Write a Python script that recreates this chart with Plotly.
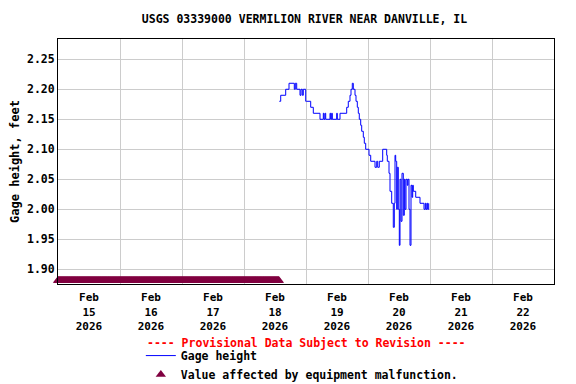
import pandas as pd
import plotly.graph_objects as go

# Gage height readings: hours after 2026-02-18 00:00 and value (feet)
gage_hours = [13.66, 14.21, 15.10, 16.14, 17.42, 19.47, 19.86, 20.40, 21.68, 22.06,
              22.57, 22.96, 23.88, 24.27, 25.82, 26.83, 29.42, 30.70, 30.97, 31.36,
              31.63, 33.29, 33.56, 33.95, 34.18, 35.88, 36.12, 37.16, 39.75, 40.37,
              41.03, 41.42, 41.92, 42.31, 42.97, 43.36, 43.86, 44.25, 44.63, 45.17,
              45.56, 46.18, 46.57, 47.11, 48.39, 49.05, 50.71, 51.37, 51.76, 52.37,
              53.69, 55.24, 55.47, 56.13, 56.52, 57.17, 57.79, 58.18, 58.45, 58.72,
              59.11, 59.34, 59.73, 60.12, 60.39, 60.77, 61.16, 61.67, 62.05, 62.32,
              62.71, 63.21, 63.48, 63.87, 64.26, 64.65, 65.03, 65.30, 65.54, 66.47,
              68.13, 69.68, 70.18, 70.45, 70.84, 71.11, 71.50]
gage_values = [2.18, 2.19, 2.19, 2.20, 2.21, 2.20, 2.21, 2.20, 2.19, 2.20,
               2.19, 2.20, 2.18, 2.18, 2.17, 2.16, 2.15, 2.16, 2.15, 2.16,
               2.15, 2.16, 2.15, 2.16, 2.15, 2.16, 2.15, 2.16, 2.17, 2.18,
               2.19, 2.20, 2.21, 2.20, 2.19, 2.18, 2.17, 2.16, 2.15, 2.14,
               2.13, 2.12, 2.11, 2.10, 2.09, 2.08, 2.07, 2.08, 2.07, 2.08,
               2.10, 2.09, 2.08, 2.06, 2.03, 2.01, 1.97, 2.01, 2.09, 2.08,
               2.00, 2.07, 2.00, 1.94, 2.05, 1.98, 2.06, 1.99, 2.05, 2.00,
               2.05, 2.04, 2.05, 2.00, 1.94, 2.04, 2.02, 2.04, 2.03, 2.02,
               2.01, 2.00, 2.01, 2.00, 2.01, 2.00, 2.01]

# Period of values flagged as affected by equipment malfunction
malfunction_start = "2026-02-15 00:00"
malfunction_end = "2026-02-18 13:30"
malfunction_level = 1.8815

day_labels = ["Feb<br>15<br>2026", "Feb<br>16<br>2026", "Feb<br>17<br>2026", "Feb<br>18<br>2026",
              "Feb<br>19<br>2026", "Feb<br>20<br>2026", "Feb<br>21<br>2026", "Feb<br>22<br>2026"]
day_dates = ["2026-02-15", "2026-02-16", "2026-02-17", "2026-02-18",
             "2026-02-19", "2026-02-20", "2026-02-21", "2026-02-22"]
y_ticks = [1.90, 1.95, 2.00, 2.05, 2.10, 2.15, 2.20, 2.25]

base = pd.Timestamp("2026-02-18 00:00")
gage_times = [base + pd.Timedelta(hours=h) for h in gage_hours]
mal_times = pd.date_range(malfunction_start, malfunction_end, freq="15min")

FONT = "DejaVu Sans Mono"
fig = go.Figure()
fig.add_trace(go.Scatter(x=gage_times, y=gage_values, mode="lines", name="Gage height",
                         line=dict(color="#0000ff", width=1, shape="hv")))
fig.add_trace(go.Scatter(x=mal_times, y=[malfunction_level] * len(mal_times), mode="markers",
                         name="Value affected by equipment malfunction.",
                         marker=dict(symbol="triangle-up", size=9, color="#800040", line=dict(width=0)),
                         cliponaxis=False))

noons = [pd.Timestamp(d) + pd.Timedelta(hours=12) for d in day_dates]
mids = [pd.Timestamp(d) for d in day_dates[1:]]

fig.update_layout(
    width=568, height=376,
    margin=dict(l=50, r=22, t=31, b=100, autoexpand=False),
    paper_bgcolor="white", plot_bgcolor="white",
    font=dict(family=FONT, size=11.5, color="black", weight="bold"),
    title=dict(text="USGS 03339000 VERMILION RIVER NEAR DANVILLE, IL", x=0.522, xanchor="center",
               y=0.97, yanchor="middle", font=dict(family=FONT, size=11.5, weight="bold")),
    xaxis=dict(range=[pd.Timestamp("2026-02-15"), pd.Timestamp("2026-02-23")], automargin=False,
               tickmode="array", tickvals=noons, ticktext=day_labels, showgrid=False,
               ticks="", showline=True, linecolor="black", linewidth=1, mirror=True,
               zeroline=False, tickfont=dict(size=11), ticklabelstandoff=3,
               minor=dict(tickmode="array", tickvals=mids, showgrid=True, gridcolor="#cccccc",
                          gridwidth=1, ticks="")),
    yaxis=dict(range=[1.8755, 2.2838], tickmode="array", tickvals=y_ticks, automargin=False,
               ticktext=[f"{v:.2f}" for v in y_ticks], showgrid=True, gridcolor="#cccccc",
               gridwidth=1, ticks="", showline=True, linecolor="black", linewidth=1, mirror=True,
               zeroline=False,
               title=dict(text="Gage height, feet", standoff=9,
                          font=dict(family=FONT, size=12, weight="bold"))),
    legend=dict(x=0.167, y=-0.233, xanchor="left", yanchor="top", bgcolor="rgba(0,0,0,0)",
                tracegroupgap=0, itemwidth=30, font=dict(family=FONT, size=11.5, weight="bold")),
    showlegend=True,
    annotations=[dict(text="---- Provisional Data Subject to Revision ----", xref="paper", yref="paper",
                      x=0.5, y=-0.241, xanchor="center", yanchor="middle", showarrow=False,
                      font=dict(family=FONT, size=11.5, color="#ff0000", weight="bold"))],
)
fig.write_html("out.html")
